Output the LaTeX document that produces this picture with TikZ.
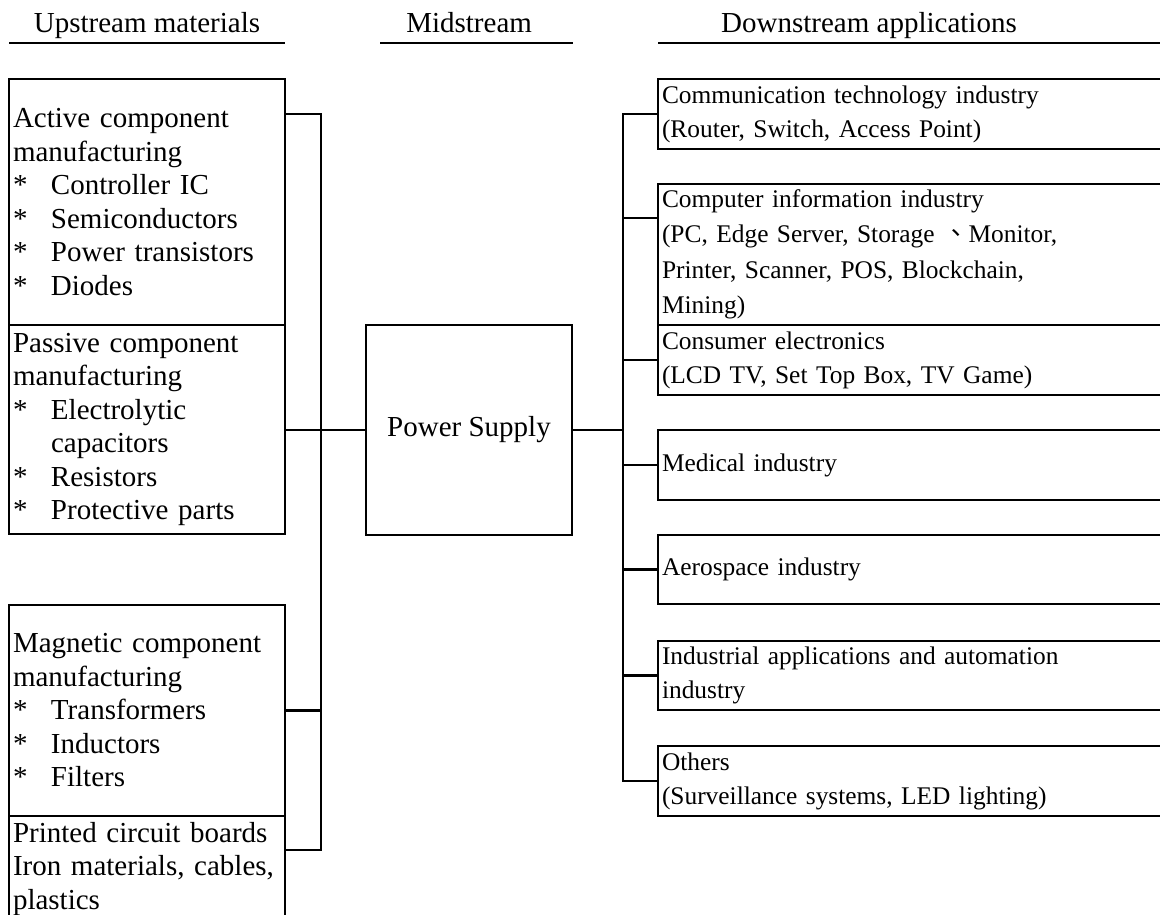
\documentclass[tikz,border=0pt]{standalone}
\usepackage{fontspec}
\setmainfont{Liberation Serif}
\newfontfamily\cjk{Noto Sans CJK TC}
\newcommand{\itm}[1]{\makebox[38pt][l]{*}#1}
\newcommand{\cont}[1]{\hspace*{38pt}#1}
\begin{document}
\begin{tikzpicture}[x=1pt,y=-1pt,line width=2.6pt,
  lbox/.style={draw,rectangle,anchor=north west,outer sep=0pt,inner xsep=4pt,inner ysep=0pt,
    align=left,text width=268pt,font=\fontsize{29}{33.5}\selectfont},
  rbox/.style={draw,rectangle,anchor=north west,outer sep=0pt,inner xsep=4pt,inner ysep=0pt,
    align=left,text width=512pt,font=\fontsize{25.4}{34}\selectfont},
  hdr/.style={inner sep=0pt,font=\fontsize{29}{33.5}\selectfont},
  link/.style={line width=2.6pt}]
\clip (0,0) rectangle (1160,915);
\fill[white] (0,0) rectangle (1160,915);
% headers
\node[hdr,anchor=base] (hup) at (147,33) {Upstream materials};
\node[hdr,anchor=base west] (hmid) at (405,33) {Midstream};
\node[hdr,anchor=base] (hdown) at (869,33) {Downstream applications};
\draw (9,43) -- (285,43);
\draw (380,43) -- (573,43);
\draw (658,43) -- (1175,43);
% left boxes
\node[lbox,minimum height=246pt] (active) at (9,79) {Active component\\manufacturing\\\itm{Controller IC}\\\itm{Semiconductors}\\\itm{Power transistors}\\\itm{Diodes}};
\node[lbox,minimum height=209pt] (passive) at (9,325) {Passive component\\manufacturing\\\itm{Electrolytic}\\\cont{capacitors}\\\itm{Resistors}\\\itm{Protective parts}};
\node[lbox,minimum height=211pt] (magnetic) at (9,605) {Magnetic component\\manufacturing\\\itm{Transformers}\\\itm{Inductors}\\\itm{Filters}};
\node[lbox,minimum height=106pt] (pcb) at (9,816) {Printed circuit boards\\Iron materials, cables,\\plastics};
% power supply
\node[draw,rectangle,outer sep=0pt,minimum width=206pt,minimum height=210pt,font=\fontsize{29}{33.5}\selectfont] (power) at (469,430) {Power Supply};
% right boxes
\node[rbox,minimum height=70pt] (comm) at (658,79) {Communication technology industry\\(Router, Switch, Access Point)};
\node[rbox,minimum height=141pt,font=\fontsize{25.4}{35.5}\selectfont] (comp) at (658,184) {Computer information industry\\(PC, Edge Server, Storage {\cjk 、}Monitor,\\Printer, Scanner, POS, Blockchain,\\Mining)};
\node[rbox,minimum height=70pt] (cons) at (658,325) {Consumer electronics\\(LCD TV, Set Top Box, TV Game)};
\node[rbox,minimum height=70pt] (med) at (658,430) {Medical industry};
\node[rbox,minimum height=69pt] (aero) at (658,535) {Aerospace industry};
\node[rbox,minimum height=69pt] (indus) at (658,641) {Industrial applications and automation\\industry};
\node[rbox,minimum height=70pt] (oth) at (658,746) {Others\\(Surveillance systems, LED lighting)};
% left bus
\coordinate (lbusT) at (321,114);
\coordinate (lbusB) at (321,850);
\draw[link] (active.east |- lbusT) -- (lbusT) -- (lbusB) -- (pcb.east |- lbusB);
\draw[link] (magnetic.east) -- (magnetic.east -| lbusT);
\draw[link] (passive.east |- power.west) -- (power.west);
% right bus
\coordinate (rbusT) at (623,114);
\coordinate (rbusB) at (623,781);
\coordinate (compc) at (623,218);
\draw[link] (comm.west |- rbusT) -- (rbusT) -- (rbusB) -- (oth.west |- rbusB);
\draw[link] (power.east) -- (power.east -| rbusT);
\draw[link] (compc) -- (comp.west |- compc);
\draw[link] (cons.west -| rbusT) -- (cons.west);
\draw[link] (med.west -| rbusT) -- (med.west);
\draw[link] (aero.west -| rbusT) -- (aero.west);
\draw[link] (indus.west -| rbusT) -- (indus.west);
\end{tikzpicture}
\end{document}
